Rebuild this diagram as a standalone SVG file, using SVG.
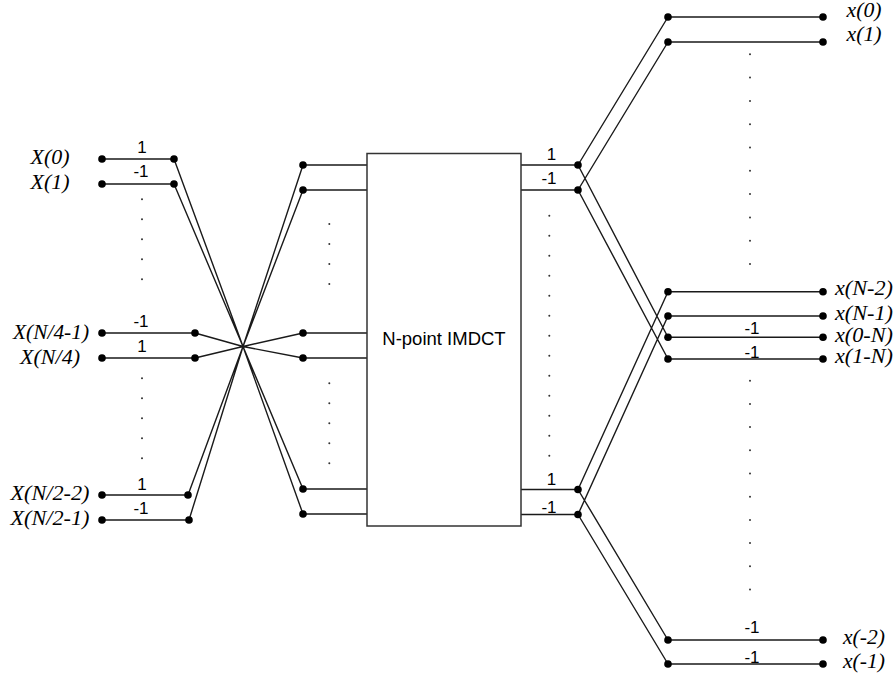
<svg xmlns="http://www.w3.org/2000/svg" width="894" height="676" viewBox="0 0 894 676">
  <style>
    .wire { fill: none; stroke: #1a1a1a; stroke-width: 1.4; }
    .box { fill: #ffffff; stroke: #333333; stroke-width: 1.5; }
    .pin { fill: #000000; }
    .dot { fill: #333333; }
    .var { font-family: "Liberation Serif", "Times New Roman", serif; font-style: italic; font-size: 20px; fill: #000; text-anchor: middle; }
    .gain { font-family: "Liberation Sans", Arial, sans-serif; font-size: 17px; fill: #000; text-anchor: middle; }
    .title { font-family: "Liberation Sans", Arial, sans-serif; font-size: 18.5px; fill: #000; text-anchor: middle; }
  </style>
  <defs>
    <circle id="pin" r="3.8" class="pin"/>
    <circle id="d" r="1" class="dot"/>
  </defs>

  <!-- wires -->
  <g id="connectors">
    <!-- input stubs -->
    <path class="wire" d="M102 159H174 M102 184H174 M102 333H195 M102 358H195 M102 495H188 M102 520H189"/>
    <!-- reordering butterfly through a common crossing point -->
    <path class="wire" d="M174 159L243 346.5L303 514 M174 184L243 346.5L303 489 M188 495L243 346.5L303 190 M189 520L243 346.5L303 165 M195 333L243 346.5L303 358 M195 358L243 346.5L303 333"/>
    <!-- into the transform block -->
    <path class="wire" d="M303 165H367 M303 190H367 M303 333H367 M303 358H367 M303 489H367 M303 514H367"/>
    <!-- out of the transform block -->
    <path class="wire" d="M521 165H578 M521 190H578 M521 489.5H578 M521 514.5H578"/>
    <!-- output unfolding -->
    <path class="wire" d="M578 165L668 17 M578 190L668 42 M578 165L668 337.3 M578 190L668 359 M578 489.5L668 291.7 M578 514.5L668 316 M578 489.5L668 640 M578 514.5L668 664"/>
    <!-- output stubs -->
    <path class="wire" d="M668 17H823 M668 42H823 M668 291.7H823 M668 316H823 M668 337.3H823 M668 359H823 M668 640H823 M668 664H823"/>
  </g>

  <!-- transform block -->
  <g id="imdct">
    <rect class="box" x="367" y="153.5" width="154" height="372.5"/>
    <text class="title" x="444" y="345">N-point IMDCT</text>
  </g>

  <!-- inputs -->
  <g id="in-0"><use href="#pin" x="102" y="159"/><use href="#pin" x="174" y="159"/><text class="var" x="50" y="164" textLength="39" lengthAdjust="spacingAndGlyphs">X(0)</text><text class="gain" x="142" y="153">1</text></g>
  <g id="in-1"><use href="#pin" x="102" y="184"/><use href="#pin" x="174" y="184"/><text class="var" x="50" y="188.5" textLength="39" lengthAdjust="spacingAndGlyphs">X(1)</text><text class="gain" x="141" y="177">-1</text></g>
  <g id="in-q1"><use href="#pin" x="102" y="333"/><use href="#pin" x="195" y="333"/><text class="var" x="51" y="339" textLength="76" lengthAdjust="spacingAndGlyphs">X(N/4-1)</text><text class="gain" x="141" y="327">-1</text></g>
  <g id="in-q"><use href="#pin" x="102" y="358"/><use href="#pin" x="195" y="358"/><text class="var" x="50" y="364" textLength="60" lengthAdjust="spacingAndGlyphs">X(N/4)</text><text class="gain" x="142" y="352">1</text></g>
  <g id="in-h2"><use href="#pin" x="102" y="495"/><use href="#pin" x="188" y="495"/><text class="var" x="50" y="500" textLength="79" lengthAdjust="spacingAndGlyphs">X(N/2-2)</text><text class="gain" x="142" y="490">1</text></g>
  <g id="in-h1"><use href="#pin" x="102" y="520"/><use href="#pin" x="189" y="520"/><text class="var" x="50" y="524.5" textLength="79" lengthAdjust="spacingAndGlyphs">X(N/2-1)</text><text class="gain" x="141" y="514">-1</text></g>

  <!-- block inputs -->
  <g id="pre">
    <use href="#pin" x="303" y="165"/><use href="#pin" x="303" y="190"/>
    <use href="#pin" x="303" y="333"/><use href="#pin" x="303" y="358"/>
    <use href="#pin" x="303" y="489"/><use href="#pin" x="303" y="514"/>
  </g>

  <!-- block outputs -->
  <g id="post">
    <use href="#pin" x="578" y="165"/><use href="#pin" x="578" y="190"/>
    <use href="#pin" x="578" y="489.5"/><use href="#pin" x="578" y="514.5"/>
    <text class="gain" x="551.5" y="160">1</text>
    <text class="gain" x="549" y="184">-1</text>
    <text class="gain" x="551.5" y="485">1</text>
    <text class="gain" x="549" y="512.5">-1</text>
  </g>

  <!-- outputs -->
  <g id="out-0"><use href="#pin" x="668" y="17"/><use href="#pin" x="823" y="17"/><text class="var" x="864" y="17" textLength="35" lengthAdjust="spacingAndGlyphs">x(0)</text></g>
  <g id="out-1"><use href="#pin" x="668" y="42"/><use href="#pin" x="823" y="42"/><text class="var" x="864" y="41" textLength="35" lengthAdjust="spacingAndGlyphs">x(1)</text></g>
  <g id="out-n2"><use href="#pin" x="668" y="291.7"/><use href="#pin" x="823" y="291.7"/><text class="var" x="864" y="295" textLength="58" lengthAdjust="spacingAndGlyphs">x(N-2)</text></g>
  <g id="out-n1"><use href="#pin" x="668" y="316"/><use href="#pin" x="823" y="316"/><text class="var" x="864" y="319.5" textLength="58" lengthAdjust="spacingAndGlyphs">x(N-1)</text></g>
  <g id="out-0n"><use href="#pin" x="668" y="337.3"/><use href="#pin" x="823" y="337.3"/><text class="var" x="864" y="341.5" textLength="58" lengthAdjust="spacingAndGlyphs">x(0-N)</text><text class="gain" x="752" y="334">-1</text></g>
  <g id="out-1n"><use href="#pin" x="668" y="359"/><use href="#pin" x="823" y="359"/><text class="var" x="864" y="363" textLength="58" lengthAdjust="spacingAndGlyphs">x(1-N)</text><text class="gain" x="752" y="358">-1</text></g>
  <g id="out-m2"><use href="#pin" x="668" y="640"/><use href="#pin" x="823" y="640"/><text class="var" x="864" y="643.5" textLength="42" lengthAdjust="spacingAndGlyphs">x(-2)</text><text class="gain" x="752" y="633">-1</text></g>
  <g id="out-m1"><use href="#pin" x="668" y="664"/><use href="#pin" x="823" y="664"/><text class="var" x="864" y="668" textLength="42" lengthAdjust="spacingAndGlyphs">x(-1)</text><text class="gain" x="752" y="663">-1</text></g>

  <!-- ellipsis marks -->
  <g id="ellipses">
    <use href="#d" x="142" y="199.3"/><use href="#d" x="142" y="219.3"/><use href="#d" x="142" y="239.3"/><use href="#d" x="142" y="259.3"/><use href="#d" x="142" y="279.3"/>
    <use href="#d" x="142" y="378.3"/><use href="#d" x="142" y="398.3"/><use href="#d" x="142" y="418.3"/><use href="#d" x="142" y="438.3"/><use href="#d" x="142" y="458.3"/>

    <use href="#d" x="329.3" y="224"/><use href="#d" x="329.3" y="244"/><use href="#d" x="329.3" y="264"/><use href="#d" x="329.3" y="284"/>
    <use href="#d" x="329.3" y="383.3"/><use href="#d" x="329.3" y="403.3"/><use href="#d" x="329.3" y="423.3"/><use href="#d" x="329.3" y="443.3"/><use href="#d" x="329.3" y="463.3"/>

    <use href="#d" x="549.3" y="215.7"/><use href="#d" x="549.3" y="235.7"/><use href="#d" x="549.3" y="255.7"/><use href="#d" x="549.3" y="275.7"/><use href="#d" x="549.3" y="295.7"/>
    <use href="#d" x="549.3" y="315.7"/><use href="#d" x="549.3" y="335.7"/><use href="#d" x="549.3" y="355.7"/><use href="#d" x="549.3" y="375.7"/><use href="#d" x="549.3" y="395.7"/>
    <use href="#d" x="549.3" y="415.7"/><use href="#d" x="549.3" y="435.7"/><use href="#d" x="549.3" y="455.7"/>

    <use href="#d" x="750" y="54.3"/><use href="#d" x="750" y="77.6"/><use href="#d" x="750" y="100.9"/><use href="#d" x="750" y="124.2"/><use href="#d" x="750" y="147.5"/>
    <use href="#d" x="750" y="170.8"/><use href="#d" x="750" y="194.1"/><use href="#d" x="750" y="217.4"/><use href="#d" x="750" y="240.7"/><use href="#d" x="750" y="264"/>

    <use href="#d" x="750" y="380.7"/><use href="#d" x="750" y="403.9"/><use href="#d" x="750" y="427.1"/><use href="#d" x="750" y="450.3"/><use href="#d" x="750" y="473.5"/>
    <use href="#d" x="750" y="496.7"/><use href="#d" x="750" y="519.9"/><use href="#d" x="750" y="543.1"/><use href="#d" x="750" y="566.3"/><use href="#d" x="750" y="589.5"/>
  </g>
</svg>
